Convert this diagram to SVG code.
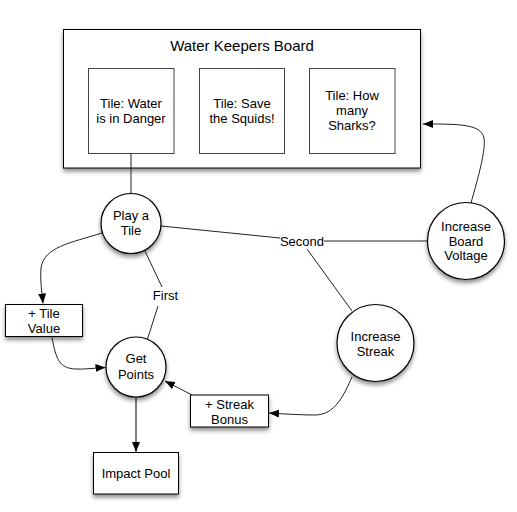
<svg xmlns="http://www.w3.org/2000/svg" width="517" height="512" viewBox="0 0 517 512">
<style>
.box{fill:#fff;stroke:#000;stroke-width:1;filter:url(#sh)}
.inner{fill:#fff;stroke:#444;stroke-width:1}
.circ{fill:#fff;stroke:#000;stroke-width:1.2;filter:url(#sh)}
.t{font-family:"Liberation Sans",Arial,sans-serif;font-size:13px;fill:#000;text-anchor:middle}
.title{font-size:15px}
.c{fill:none;stroke:#222;stroke-width:1}
.ca{fill:none;stroke:#222;stroke-width:1;marker-end:url(#ah)}
</style>
<defs>
<filter id="sh" x="-20%" y="-20%" width="140%" height="150%">
<feDropShadow dx="0" dy="3" stdDeviation="2" flood-color="#000" flood-opacity="0.45"/>
</filter>
<marker id="ah" viewBox="0 0 10 10" refX="10" refY="5" markerWidth="10" markerHeight="10" markerUnits="userSpaceOnUse" orient="auto">
<path d="M0,1 L10,5 L0,9 Z" fill="#000"/>
</marker>
</defs>

<g id="board">
<rect class="box" x="63.5" y="29.5" width="357" height="138.5"/>
<text class="t title" x="242" y="51">Water Keepers Board</text>
</g>
<g id="tile1">
<rect class="inner" x="88.5" y="68.5" width="85.5" height="85"/>
<text class="t" x="131" y="107.5">Tile: Water</text>
<text class="t" x="131" y="122.5">is in Danger</text>
</g>
<g id="tile2">
<rect class="inner" x="199.5" y="68.5" width="85" height="85"/>
<text class="t" x="242" y="107.5">Tile: Save</text>
<text class="t" x="242" y="122.5">the Squids!</text>
</g>
<g id="tile3">
<rect class="inner" x="309.5" y="68.5" width="85.5" height="85"/>
<text class="t" x="352" y="99.5">Tile: How</text>
<text class="t" x="352" y="114.5">many</text>
<text class="t" x="352" y="129.5">Sharks?</text>
</g>

<g id="connectors">
<line class="c" x1="131" y1="153.5" x2="131" y2="193"/>
<path class="c" d="M161,226 L280,238"/>
<path class="c" d="M324,241 L427,241"/>
<path class="c" d="M307,249 L352,311"/>
<path class="c" d="M144.5,250 L162,287"/>
<path class="c" d="M158,306 L147.5,339"/>
<path class="ca" d="M471,203 C478,178 486,150 484,138 C481,124 460,124 423,124"/>
<path class="ca" d="M102,233 C70,243 44,247 41,268 C40,282 42,292 43,303.5"/>
<path class="ca" d="M52,337.5 C56,360 60,368 75,369 C85,369.5 95,368 105.5,367.5"/>
<path class="ca" d="M192,395 L165,381"/>
<path class="ca" d="M136,397 L136,452" style="stroke:#555;stroke-width:1.5"/>
<path class="ca" d="M352,377 C344,395 335,415 315,415 C300,415 285,414 269,413"/>
<text class="t" x="302" y="245.5">Second</text>
<text class="t" x="165.5" y="300">First</text>
</g>

<g id="play">
<circle class="circ" cx="131" cy="223.5" r="30"/>
<text class="t" x="131" y="220">Play a</text>
<text class="t" x="131" y="235">Tile</text>
</g>
<g id="getpoints">
<circle class="circ" cx="136" cy="367" r="30"/>
<text class="t" x="136" y="363">Get</text>
<text class="t" x="136" y="379">Points</text>
</g>
<g id="tilevalue">
<rect class="box" x="5.5" y="304.5" width="77" height="32"/>
<text class="t" x="44" y="317.5">+ Tile</text>
<text class="t" x="44" y="332.5">Value</text>
</g>
<g id="impact">
<rect class="box" x="93.5" y="452.5" width="85" height="41.5"/>
<text class="t" x="136" y="478">Impact Pool</text>
</g>
<g id="streakbonus">
<rect class="box" x="190.5" y="395" width="78" height="32"/>
<text class="t" x="229.5" y="409">+ Streak</text>
<text class="t" x="229.5" y="424">Bonus</text>
</g>
<g id="streak">
<circle class="circ" cx="375.5" cy="343" r="38.5"/>
<text class="t" x="375.5" y="341">Increase</text>
<text class="t" x="375.5" y="356">Streak</text>
</g>
<g id="voltage">
<circle class="circ" cx="466" cy="241" r="38.5"/>
<text class="t" x="466" y="231">Increase</text>
<text class="t" x="466" y="245.5">Board</text>
<text class="t" x="466" y="260">Voltage</text>
</g>
</svg>
